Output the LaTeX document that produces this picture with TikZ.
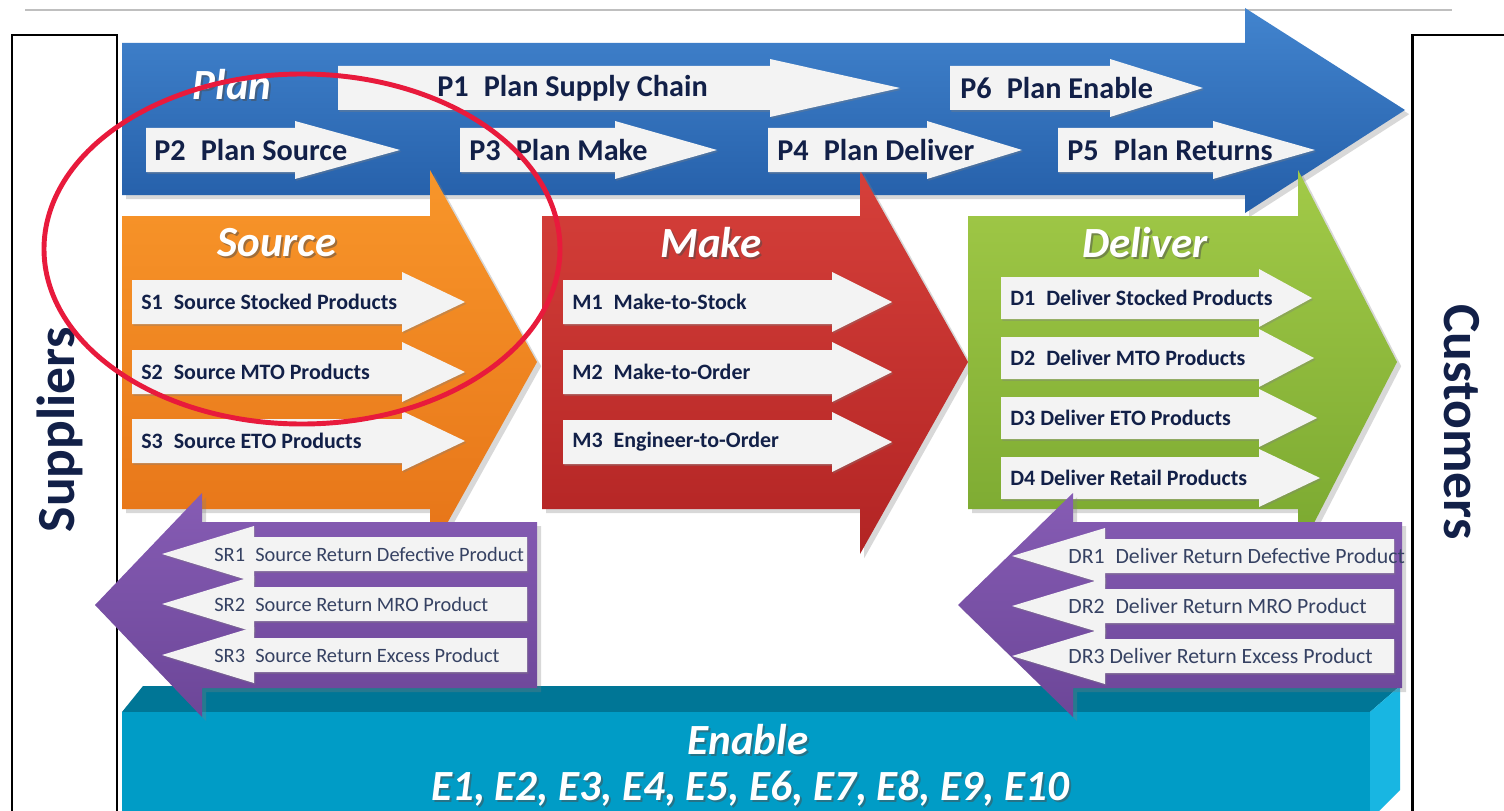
\documentclass[tikz,border=0pt]{standalone}
\usepackage{fontspec}
\setmainfont{Carlito}
\usepackage{tikz}
\usetikzlibrary{shadows}

\definecolor{planT}{RGB}{66,132,206}
\definecolor{planB}{RGB}{36,94,168}
\definecolor{srcT}{RGB}{248,150,42}
\definecolor{srcB}{RGB}{230,116,24}
\definecolor{makeT}{RGB}{214,64,58}
\definecolor{makeB}{RGB}{178,36,36}
\definecolor{delT}{RGB}{162,202,72}
\definecolor{delB}{RGB}{122,168,48}
\definecolor{retT}{RGB}{134,92,180}
\definecolor{retB}{RGB}{108,70,152}
\definecolor{enfront}{RGB}{0,156,198}
\definecolor{entop}{RGB}{0,118,150}
\definecolor{enside}{RGB}{24,182,226}
\definecolor{navy}{RGB}{18,32,72}
\definecolor{ringred}{RGB}{232,26,60}
\definecolor{paper}{RGB}{243,243,243}

\begin{document}
\begin{tikzpicture}[x=0.02cm, y=-0.02cm,
	stagetitle/.style={text=white, font=\fontsize{24.5}{26}\selectfont\bfseries\itshape},
	titleshadow/.style={text=black!70, text opacity=0.5, font=\fontsize{24.5}{26}\selectfont\bfseries\itshape},
	ptext/.style={anchor=west, text=navy, inner sep=0pt, font=\fontsize{17.2}{19}\selectfont\bfseries},
	stext/.style={anchor=west, text=navy, inner sep=0pt, font=\fontsize{12.5}{14}\selectfont\bfseries},
	srtext/.style={anchor=west, text=navy!85, inner sep=0pt, font=\fontsize{11.6}{14}\selectfont},
	drtext/.style={anchor=west, text=navy!85, inner sep=0pt, font=\fontsize{12.4}{14}\selectfont},
	sidetext/.style={text=navy, font=\fontsize{30.5}{32}\selectfont\bfseries},
	whitearrow/.style={fill=paper, drop shadow={opacity=0.35, shadow xshift=0.8pt, shadow yshift=-1pt}},
	sidebox/.style={line width=1.7pt, black}]
	\useasboundingbox (0,0) rectangle (1504,811);
	\fill[white] (0,0) rectangle (1504,811);
	\draw[gray!50, line width=1.2pt] (25,10) -- (1452,10);

	\draw[sidebox] (12,830) -- (12,35) -- (117,35) -- (117,830);
	\draw[sidebox] (1412,830) -- (1412,35) -- (1520,35);
	\node[sidetext, rotate=90] (suppliers) at (60,430) {Suppliers};
	\node[sidetext, rotate=-90] (customers) at (1462,422) {Customers};

	\fill[entop] (122,712) -- (143,686) -- (1400,686) -- (1370,712) -- cycle;
	\fill[enside] (1370,712) -- (1400,686) -- (1400,790) -- (1370,820) -- cycle;
	\fill[enfront] (122,712) rectangle (1370,820);
	\node[titleshadow] (enablesh) at (750,742) {Enable};
	\node[stagetitle] (enable) at (748,740) {Enable};
	\node[titleshadow] (elistsh) at (752,791) {E1, E2, E3, E4, E5, E6, E7, E8, E9, E10};
	\node[stagetitle] (elist) at (750,789) {E1, E2, E3, E4, E5, E6, E7, E8, E9, E10};

	\shade[top color=planT, bottom color=planB, drop shadow={opacity=0.3}] (122,43) -- (1245,43) -- (1245,8) -- (1405,110) -- (1245,213) -- (1245,195) -- (122,195) -- cycle;
	\node[titleshadow] (plansh) at (234,87) {Plan};
	\node[stagetitle] (plan) at (232,85) {Plan};

	\foreach \l/\hx/\tx/\col in {122/430/537/src, 542/860/968/make, 968/1298/1397/del}
		\shade[top color=\col T, bottom color=\col B, drop shadow={opacity=0.3}] (\l,216) -- (\hx,216) -- (\hx,170) -- (\tx,362) -- (\hx,554) -- (\hx,509) -- (\l,509) -- cycle;
	\foreach \x/\name/\txt in {277/source/Source, 711/make/Make, 1145/deliver/Deliver} {
		\node[titleshadow] (\name sh) at (\x+2,245) {\txt};
		\node[stagetitle] (\name) at (\x,243) {\txt};
	}

	\foreach \l/\hx/\tx/\y/\px/\name/\txt in {
		338/770/900/88/437/p1/{P1\enspace Plan Supply Chain},
		950/1110/1203/88/960/p6/{P6\enspace Plan Enable},
		146/295/400/150/154/p2/{P2\enspace Plan Source},
		460/615/717/150/469/p3/{P3\enspace Plan Make},
		768/927/1022/150/777/p4/{P4\enspace Plan Deliver},
		1058/1213/1315/150/1067/p5/{P5\enspace Plan Returns}} {
		\fill[whitearrow] (\l,\y-22) -- (\hx,\y-22) -- (\hx,\y-29) -- (\tx,\y) -- (\hx,\y+29) -- (\hx,\y+22) -- (\l,\y+22) -- cycle;
		\node[ptext] (\name) at (\px,\y) {\txt};
	}

	\foreach \l/\hx/\tx/\y/\name/\txt in {
		132/402/465/302/s1/{S1\enspace Source Stocked Products},
		132/402/465/372/s2/{S2\enspace Source MTO Products},
		132/402/465/441/s3/{S3\enspace Source ETO Products},
		563/832/892/302/m1/{M1\enspace Make-to-Stock},
		563/832/892/372/m2/{M2\enspace Make-to-Order},
		563/832/892/442/m3/{M3\enspace Engineer-to-Order}} {
		\fill[whitearrow] (\l,\y-22) -- (\hx,\y-22) -- (\hx,\y-30) -- (\tx,\y) -- (\hx,\y+30) -- (\hx,\y+22) -- (\l,\y+22) -- cycle;
		\node[stext] (\name) at (\l+9,\y) {\txt};
	}
	\foreach \y/\tx/\name/\txt in {
		298/1312/d1/{D1\enspace Deliver Stocked Products},
		358/1314/d2/{D2\enspace Deliver MTO Products},
		418/1317/d3/{D3 Deliver ETO Products},
		478/1320/d4/{D4 Deliver Retail Products}} {
		\fill[whitearrow] (1001,\y-21) -- (1259,\y-21) -- (1259,\y-29) -- (\tx,\y) -- (1259,\y+29) -- (1259,\y+21) -- (1001,\y+21) -- cycle;
		\node[stext] (\name) at (1010,\y) {\txt};
	}

	\foreach \tip/\hb/\rr in {95/202/537, 958/1073/1402}
		\shade[top color=retT, bottom color=retB, drop shadow={opacity=0.3}] (\tip,605) -- (\hb,493) -- (\hb,522) -- (\rr,522) -- (\rr,688) -- (\hb,688) -- (\hb,717) -- cycle;
	\foreach \y/\name/\txt in {
		554/sr1/{SR1\enspace Source Return Defective Product},
		604/sr2/{SR2\enspace Source Return MRO Product},
		655/sr3/{SR3\enspace Source Return Excess Product}} {
		\fill[whitearrow] (527,\y-17) -- (254,\y-17) -- (254,\y-28) -- (162,\y) -- (254,\y+28) -- (254,\y+17) -- (527,\y+17) -- cycle;
		\node[srtext] (\name) at (214,\y) {\txt};
	}
	\foreach \y/\name/\txt in {
		556/dr1/{DR1\enspace Deliver Return Defective Product},
		606/dr2/{DR2\enspace Deliver Return MRO Product},
		656/dr3/{DR3 Deliver Return Excess Product}} {
		\fill[whitearrow] (1394,\y-17) -- (1105,\y-17) -- (1105,\y-28) -- (1012,\y) -- (1105,\y+28) -- (1105,\y+17) -- (1394,\y+17) -- cycle;
		\node[drtext] (\name) at (1068,\y) {\txt};
	}

	\draw[ringred, line width=2.8pt] (302,249) ellipse [x radius=258, y radius=175];
\end{tikzpicture}
\end{document}
